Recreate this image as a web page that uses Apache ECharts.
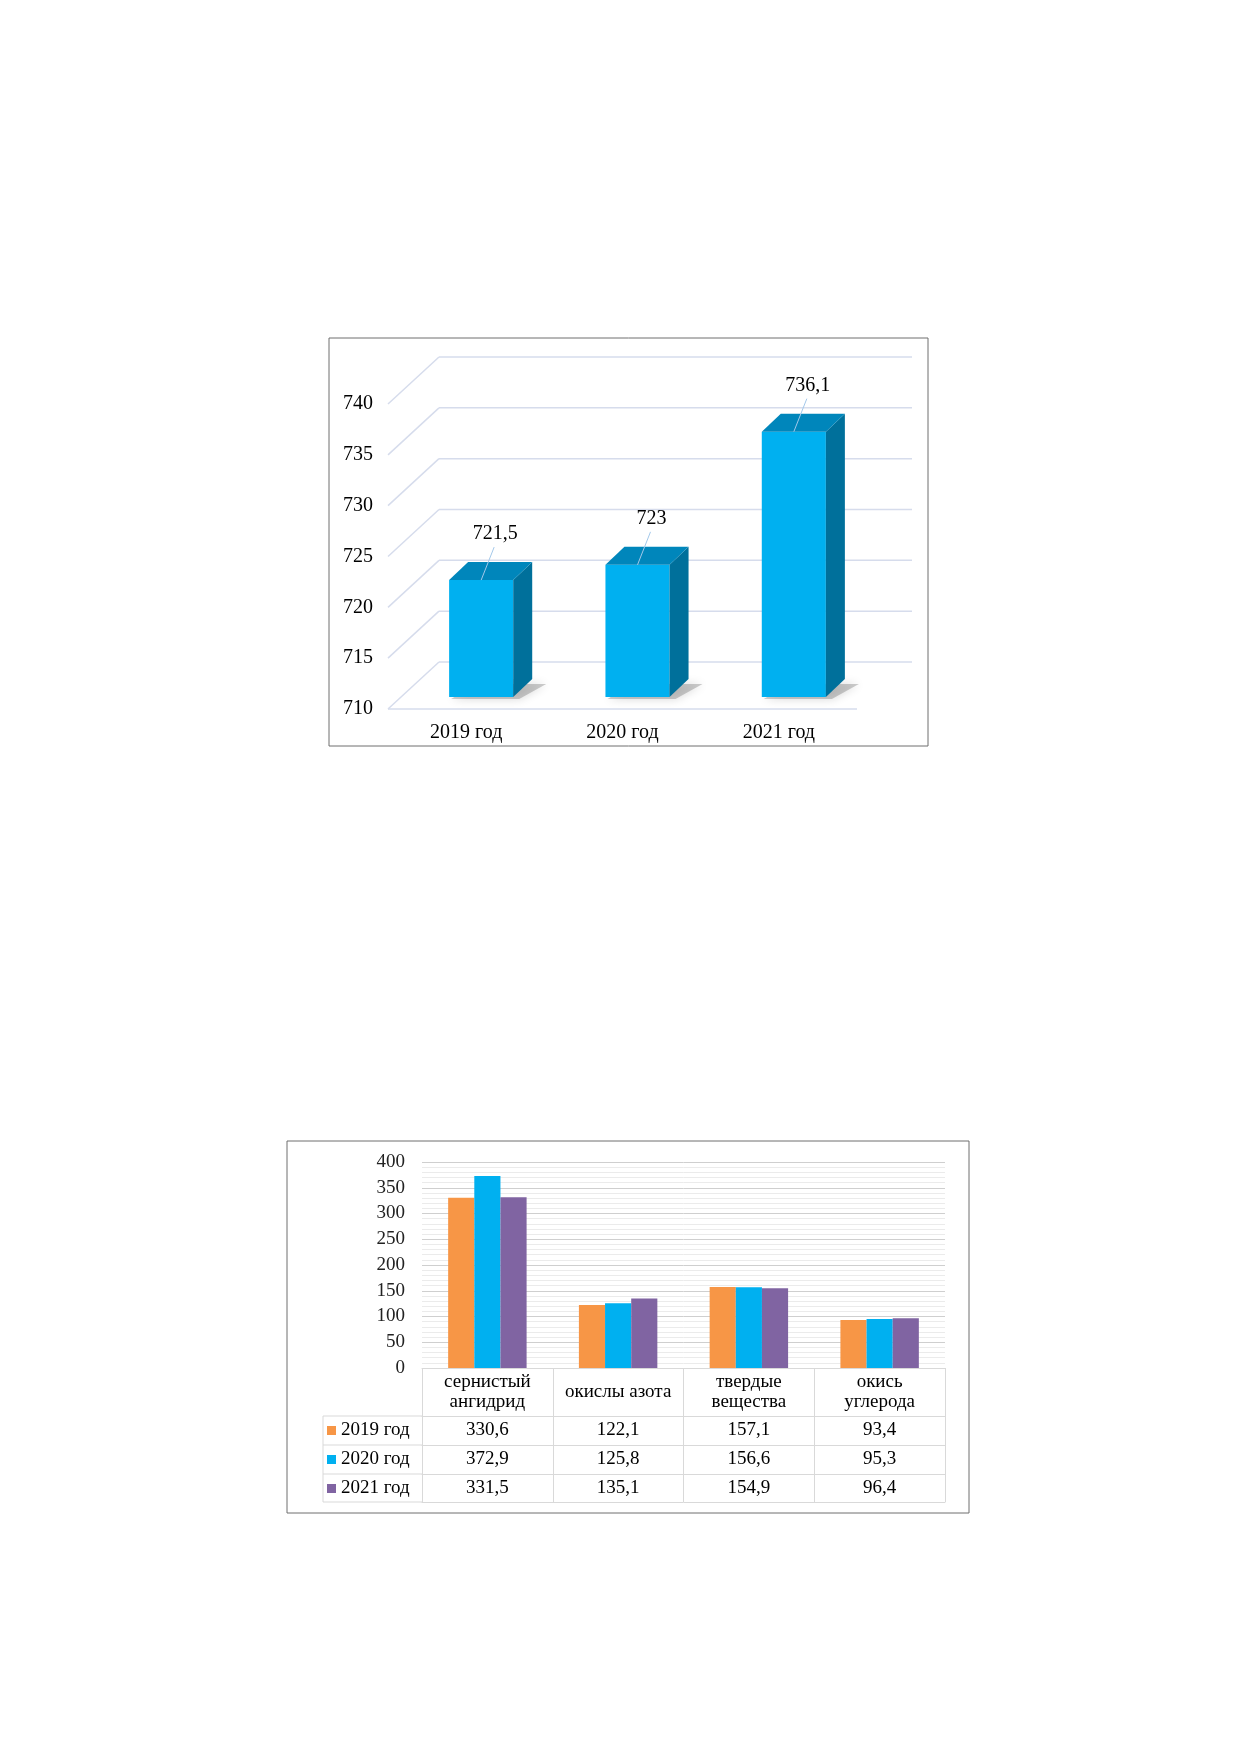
<!DOCTYPE html>
<html>
<head>
<meta charset="utf-8">
<script src="https://cdn.jsdelivr.net/npm/echarts@6/dist/echarts.min.js"></script>
<style>
html, body { margin: 0; background: #fff; }
#main { width: 1240px; height: 1754px; }
</style>
</head>
<body>
<div id="main"></div>
<script>
// chart 1: totals by year
var years = ['2019 год', '2020 год', '2021 год'];
var totals = [721.5, 723, 736.1];
var ticks1 = [710, 715, 720, 725, 730, 735, 740];

// chart 2: by pollutant
var pollutants = ['сернистый\nангидрид', 'окислы азота', 'твердые\nвещества', 'окись\nуглерода'];
var v2019 = [330.6, 122.1, 157.1, 93.4];
var v2020 = [372.9, 125.8, 156.6, 95.3];
var v2021 = [331.5, 135.1, 154.9, 96.4];
var colors2 = ['#f79646', '#00b0f0', '#8064a2'];

var serif = '"Liberation Serif", "Times New Roman", serif';
function fmt(v) { return String(v).replace('.', ','); }

var chart = echarts.init(document.getElementById('main'));

// fake 3D offsets
var wallDx = 51, wallDy = 47;
var barDx = 15, barDy = -12;
var depthX = 19, depthY = 18;

// table under chart 2
var tableTop = 1368;
var rowOff = [48, 77, 106, 134];
var tableLeft = 323, plotLeft = 422;
var cellLine = '#d9d9d9';

function renderWall(params, api) {
    var cs = params.coordSys;
    var v = api.value(1);
    var y = api.coord([0, v])[1];
    var x0 = cs.x;
    var st = { stroke: '#d6dcec', lineWidth: 1.5 };
    var kids = [
        { type: 'line', shape: { x1: x0, y1: y, x2: x0 + wallDx, y2: y - wallDy }, style: st },
        { type: 'line', shape: { x1: x0 + wallDx, y1: y - wallDy, x2: x0 + wallDx + cs.width + 4, y2: y - wallDy }, style: st }
    ];
    if (v === ticks1[0]) {
        kids.push({ type: 'line', shape: { x1: x0, y1: y, x2: x0 + cs.width, y2: y }, style: st });
    }
    return { type: 'group', children: kids };
}

function renderBar(params, api) {
    var i = api.value(0), v = api.value(1);
    var top = api.coord([i, v]);
    var base = api.coord([i, ticks1[0]]);
    var w = api.size([1, 0])[0] * 0.41;
    var cx = top[0] + barDx;
    var x0 = cx - w / 2, x1 = cx + w / 2;
    var yt = top[1] + barDy, yb = base[1] + barDy;
    var lx = cx + 14, ly = yt - 46;
    return {
        type: 'group',
        children: [
            { type: 'polygon', shape: { points: [[x0 + 2, yb + 2], [x1 + 6, yb + 2], [x1 + depthX + 14, yb - depthY + 5], [x0 + depthX + 8, yb - depthY + 5]] },
              style: { fill: 'rgba(110,110,110,0.35)', shadowBlur: 10, shadowColor: 'rgba(0,0,0,0.45)' } },
            { type: 'rect', shape: { x: x0, y: yt, width: w, height: yb - yt }, style: { fill: '#00b0f0' } },
            { type: 'polygon', shape: { points: [[x1, yt], [x1 + depthX, yt - depthY], [x1 + depthX, yb - depthY], [x1, yb]] }, style: { fill: '#00709b' } },
            { type: 'polygon', shape: { points: [[x0, yt], [x0 + depthX, yt - depthY], [x1 + depthX, yt - depthY], [x1, yt]] }, style: { fill: '#0086bb' } },
            { type: 'line', shape: { x1: lx - 1, y1: ly + 13, x2: cx, y2: yt }, style: { stroke: '#a3c8ea', lineWidth: 1 } },
            { type: 'text', x: lx, y: ly, style: { text: fmt(v), font: '20px ' + serif, fill: '#000', align: 'center', verticalAlign: 'middle' } }
        ]
    };
}

function rowAxis(vals, off) {
    return {
        gridIndex: 1, type: 'category', position: 'bottom', offset: off,
        data: vals ? vals.map(fmt) : pollutants,
        axisLine: { show: true, onZero: false, lineStyle: { color: cellLine } },
        axisTick: { show: false },
        axisLabel: { show: !!vals, interval: 0, fontFamily: serif, fontSize: 19, color: '#000', margin: 14.5, verticalAlign: 'middle' }
    };
}

function hLine(x1, x2, y) {
    return { type: 'line', silent: true, shape: { x1: x1, y1: y, x2: x2, y2: y }, style: { stroke: cellLine } };
}

var option = {
    animation: false,
    grid: [
        { left: 388, top: 404, width: 469, height: 305 },
        { left: plotLeft, top: 1162, width: 523, height: tableTop - 1162 }
    ],
    xAxis: [
        { gridIndex: 0, type: 'category', data: years,
          axisLine: { show: false }, axisTick: { show: false },
          axisLabel: { fontFamily: serif, fontSize: 20, color: '#000', margin: 24, verticalAlign: 'middle' } },
        { gridIndex: 1, type: 'category', data: pollutants,
          axisLine: { show: true, onZero: false, lineStyle: { color: cellLine } },
          axisTick: { show: true, length: rowOff[3], interval: 0, alignWithLabel: false, lineStyle: { color: cellLine } },
          axisLabel: { interval: 0, fontFamily: serif, fontSize: 19, color: '#000', lineHeight: 20, margin: 24, verticalAlign: 'middle' } },
        rowAxis(v2019, rowOff[0]),
        rowAxis(v2020, rowOff[1]),
        rowAxis(v2021, rowOff[2]),
        rowAxis(null, rowOff[3])
    ],
    yAxis: [
        { gridIndex: 0, type: 'value', min: 710, max: 740, interval: 5,
          axisLine: { show: false }, axisTick: { show: false }, splitLine: { show: false },
          axisLabel: { fontFamily: serif, fontSize: 20, color: '#000', margin: 15 } },
        { gridIndex: 1, type: 'value', min: 0, max: 400, interval: 50,
          axisLine: { show: false }, axisTick: { show: false },
          splitLine: { lineStyle: { color: '#cfcfcf' } },
          minorTick: { show: false, splitNumber: 5 },
          minorSplitLine: { show: true, lineStyle: { color: '#ebebeb' } },
          axisLabel: { fontFamily: serif, fontSize: 19, color: '#222', margin: 17 } }
    ],
    legend: {
        data: years, orient: 'vertical', left: 327, top: tableTop + rowOff[0] + 5,
        itemWidth: 9, itemHeight: 9, itemGap: 10, padding: 0, icon: 'rect',
        textStyle: { fontFamily: serif, fontSize: 19, color: '#000', lineHeight: 19 }
    },
    graphic: [
        { type: 'rect', silent: true, shape: { x: 329, y: 338, width: 599, height: 408 }, style: { fill: 'none', stroke: '#6f6f6f', lineWidth: 1 } },
        { type: 'rect', silent: true, shape: { x: 287, y: 1141, width: 682, height: 372 }, style: { fill: 'none', stroke: '#6f6f6f', lineWidth: 1 } },
        { type: 'line', silent: true, shape: { x1: tableLeft, y1: tableTop + rowOff[0], x2: tableLeft, y2: tableTop + rowOff[3] }, style: { stroke: cellLine } },
        hLine(tableLeft, plotLeft, tableTop + rowOff[0]),
        hLine(tableLeft, plotLeft, tableTop + rowOff[1]),
        hLine(tableLeft, plotLeft, tableTop + rowOff[2]),
        hLine(tableLeft, plotLeft, tableTop + rowOff[3])
    ],
    series: [
        { type: 'custom', xAxisIndex: 0, yAxisIndex: 0, silent: true, z: 1,
          data: ticks1.map(function (v) { return [0, v]; }), renderItem: renderWall },
        { type: 'custom', xAxisIndex: 0, yAxisIndex: 0, silent: true, z: 2,
          data: totals.map(function (v, i) { return [i, v]; }), renderItem: renderBar },
        { name: years[0], type: 'bar', xAxisIndex: 1, yAxisIndex: 1, data: v2019, barGap: '0%', barCategoryGap: '40%', itemStyle: { color: colors2[0] } },
        { name: years[1], type: 'bar', xAxisIndex: 1, yAxisIndex: 1, data: v2020, barGap: '0%', barCategoryGap: '40%', itemStyle: { color: colors2[1] } },
        { name: years[2], type: 'bar', xAxisIndex: 1, yAxisIndex: 1, data: v2021, barGap: '0%', barCategoryGap: '40%', itemStyle: { color: colors2[2] } }
    ]
};

chart.setOption(option);
</script>
</body>
</html>
